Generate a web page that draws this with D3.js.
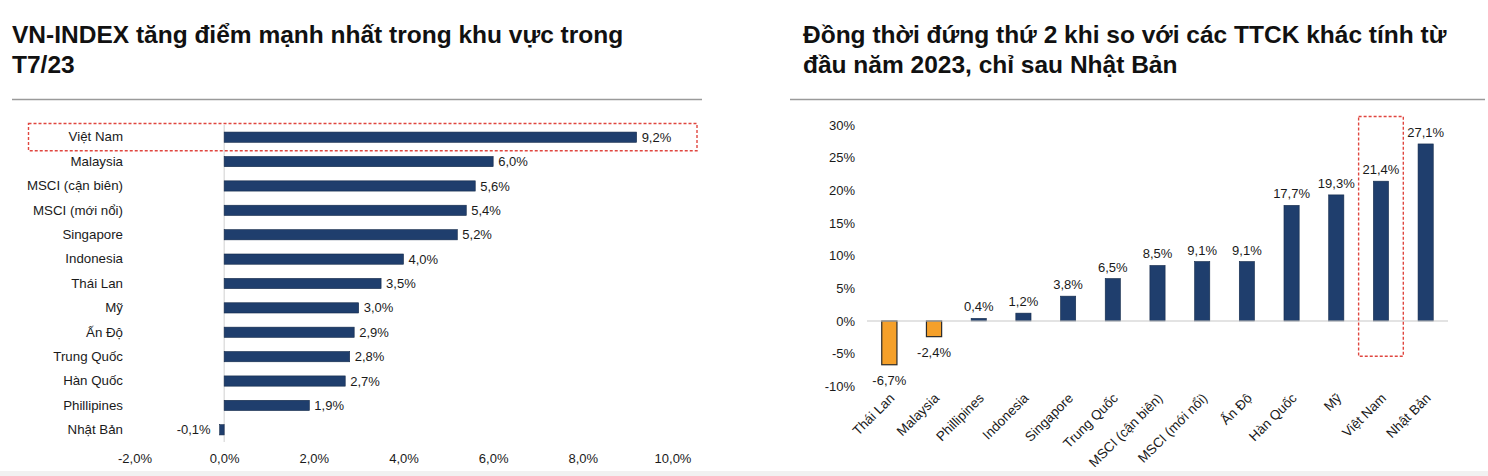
<!DOCTYPE html>
<html>
<head>
<meta charset="utf-8">
<script src="https://cdn.jsdelivr.net/npm/d3@7"></script>
<style>
  html, body { margin: 0; padding: 0; background: #fff; }
  svg { display: block; font-family: "Liberation Sans", Arial, sans-serif; }
</style>
</head>
<body>
<svg id="chart" width="1488" height="476"></svg>
<script>
// ---------- data ----------
const leftTitle = ["VN-INDEX tăng điểm mạnh nhất trong khu vực trong", "T7/23"];
const leftCategories = ["Việt Nam", "Malaysia", "MSCI (cận biên)", "MSCI (mới nổi)", "Singapore", "Indonesia", "Thái Lan", "Mỹ", "Ấn Độ", "Trung Quốc", "Hàn Quốc", "Phillipines", "Nhật Bản"];
const leftValues = [9.2, 6.0, 5.6, 5.4, 5.2, 4.0, 3.5, 3.0, 2.9, 2.8, 2.7, 1.9, -0.1];
const leftTicks = [-2, 0, 2, 4, 6, 8, 10];
const leftHighlight = "Việt Nam";

const rightTitle = ["Đồng thời đứng thứ 2 khi so với các TTCK khác tính từ", "đầu năm 2023, chỉ sau Nhật Bản"];
const rightCategories = ["Thái Lan", "Malaysia", "Phillipines", "Indonesia", "Singapore", "Trung Quốc", "MSCI (cận biên)", "MSCI (mới nổi)", "Ấn Độ", "Hàn Quốc", "Mỹ", "Việt Nam", "Nhật Bản"];
const rightValues = [-6.7, -2.4, 0.4, 1.2, 3.8, 6.5, 8.5, 9.1, 9.1, 17.7, 19.3, 21.4, 27.1];
const rightTicks = [-10, -5, 0, 5, 10, 15, 20, 25, 30];
const rightHighlight = "Việt Nam";

// ---------- style ----------
const NAVY = "#1f3e6d";
const ORANGE = "#f5a02a";
const TEXT = "#1a1a1a";
const RED = "#e0463f";
const fmt1 = v => d3.format(".1f")(v).replace("−", "-").replace(".", ",") + "%";
const fmt0 = v => d3.format("d")(v).replace("−", "-") + "%";

const svg = d3.select("#chart");

// bottom faint strip
svg.append("rect").attr("x", 0).attr("y", 471).attr("width", 1488).attr("height", 5).attr("fill", "#f1f1f1");

function title(lines, x) {
  const t = svg.append("text").attr("x", x).attr("y", 43)
    .attr("font-size", 24.5).attr("font-weight", "bold").attr("fill", "#111");
  lines.forEach((l, i) => t.append("tspan").attr("x", x).attr("y", 43 + i * 29.5).text(l));
}
title(leftTitle, 12);
title(rightTitle, 803);

svg.append("line").attr("x1", 12).attr("x2", 702).attr("y1", 99.5).attr("y2", 99.5)
  .attr("stroke", "#9a9a9a").attr("stroke-width", 1.5);
svg.append("line").attr("x1", 790).attr("x2", 1485).attr("y1", 99.5).attr("y2", 99.5)
  .attr("stroke", "#9a9a9a").attr("stroke-width", 1.5);

// ---------- left chart ----------
const xL = d3.scaleLinear().domain([-2, 10]).range([134.5, 672.5]);
const yL = d3.scaleBand().domain(leftCategories).range([125, 442]).paddingInner(0.58).paddingOuter(0.29);
const gL = svg.append("g");

// zero line
gL.append("line").attr("x1", xL(0)).attr("x2", xL(0)).attr("y1", 125).attr("y2", 442)
  .attr("stroke", "#d0d0d0").attr("stroke-width", 1);

// bars
gL.selectAll("rect.bar").data(leftValues).join("rect").attr("class", "bar")
  .attr("x", (d) => xL(Math.min(0, d)))
  .attr("y", (d, i) => yL(leftCategories[i]))
  .attr("width", d => Math.abs(xL(d) - xL(0)))
  .attr("height", yL.bandwidth())
  .attr("fill", NAVY).attr("stroke", "#142a4a").attr("stroke-width", 0.6);

// value labels
gL.selectAll("text.val").data(leftValues).join("text").attr("class", "val")
  .attr("x", d => d >= 0 ? xL(d) + 5 : xL(d) - 9)
  .attr("y", (d, i) => yL(leftCategories[i]) + yL.bandwidth() / 2)
  .attr("dy", "0.35em")
  .attr("text-anchor", d => d >= 0 ? "start" : "end")
  .attr("font-size", 13).attr("fill", TEXT)
  .text(d => fmt1(d));

// category axis
const axL = gL.append("g").attr("transform", `translate(123,0)`)
  .call(d3.axisLeft(yL).tickSize(0).tickPadding(0));
axL.select(".domain").remove();
axL.selectAll("text").attr("font-size", 13.3).attr("fill", TEXT).attr("font-family", null);

// value axis
const axLx = gL.append("g").attr("transform", `translate(0,458)`)
  .call(d3.axisBottom(xL).tickValues(leftTicks).tickSize(0).tickPadding(0).tickFormat(fmt1));
axLx.select(".domain").remove();
axLx.selectAll("text").attr("font-size", 13).attr("fill", TEXT).attr("dy", "0.35em").attr("font-family", null);

// highlight box
const hy = yL(leftHighlight);
gL.append("rect").attr("x", 28.5).attr("y", hy - 8.5)
  .attr("width", 697 - 28.5).attr("height", yL.bandwidth() + 17)
  .attr("fill", "none").attr("stroke", RED).attr("stroke-width", 1.4).attr("stroke-dasharray", "3,2");

// ---------- right chart ----------
const xR = d3.scaleBand().domain(rightCategories).range([867, 1448]).paddingInner(0.66).paddingOuter(0.33);
const yR = d3.scaleLinear().domain([-10, 30]).range([386.3, 125]);
const gR = svg.append("g");

// y axis
const axRy = gR.append("g").attr("transform", `translate(855,0)`)
  .call(d3.axisLeft(yR).tickValues(rightTicks).tickSize(0).tickPadding(0).tickFormat(fmt0));
axRy.select(".domain").remove();
axRy.selectAll("text").attr("font-size", 13).attr("fill", TEXT).attr("font-family", null);

// bars
gR.selectAll("rect.bar").data(rightValues).join("rect").attr("class", "bar")
  .attr("x", (d, i) => xR(rightCategories[i]))
  .attr("y", d => yR(Math.max(0, d)))
  .attr("width", xR.bandwidth())
  .attr("height", d => Math.abs(yR(d) - yR(0)))
  .attr("fill", d => d < 0 ? ORANGE : NAVY)
  .attr("stroke", d => d < 0 ? "#2a2a2a" : "#142a4a")
  .attr("stroke-width", d => d < 0 ? 1.2 : 0.6);

// zero line
gR.append("line").attr("x1", 867).attr("x2", 1448).attr("y1", yR(0)).attr("y2", yR(0))
  .attr("stroke", "#c8c8c8").attr("stroke-width", 1.2);

// value labels
gR.selectAll("text.val").data(rightValues).join("text").attr("class", "val")
  .attr("x", (d, i) => xR(rightCategories[i]) + xR.bandwidth() / 2)
  .attr("y", d => d >= 0 ? yR(d) - 7 : yR(d) + 20)
  .attr("text-anchor", "middle")
  .attr("font-size", 13).attr("fill", TEXT)
  .text(d => fmt1(d));

// category labels (rotated)
const axRx = gR.append("g");
axRx.selectAll("text").data(rightCategories).join("text")
  .attr("transform", d => `translate(${xR(d) + xR.bandwidth() / 2 + 6},${399}) rotate(-45)`)
  .attr("text-anchor", "end")
  .attr("font-size", 13.5).attr("fill", TEXT)
  .text(d => d);

// highlight box
const hx0 = xR(rightHighlight) - xR.step() * xR.paddingInner() / 2;
gR.append("rect").attr("x", hx0).attr("y", yR(31.3))
  .attr("width", xR.step()).attr("height", yR(-5.4) - yR(31.3))
  .attr("fill", "none").attr("stroke", RED).attr("stroke-width", 1.4).attr("stroke-dasharray", "3,2");
</script>
</body>
</html>
